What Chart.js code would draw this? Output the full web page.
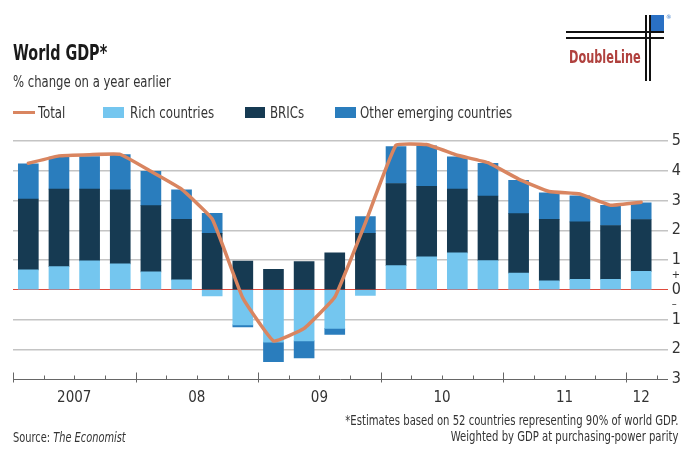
<!DOCTYPE html>
<html>
<head>
<meta charset="utf-8">
<script src="https://cdn.jsdelivr.net/npm/chart.js@4.4.0/dist/chart.umd.min.js"></script>
<style>
  body { margin: 0; background: #fff; }
  #wrap { position: relative; width: 692px; height: 466px; overflow: hidden;
          font-family: "Liberation Sans Narrow", "DejaVu Sans Condensed", Roboto, sans-serif; color: #222; }
  #chart { position: absolute; left: 0; top: 0; }
  .txt { position: absolute; white-space: nowrap; transform-origin: 0 50%; }
  #title { left: 13px; top: 41px; font-size: 21px; line-height: 24px; font-weight: bold; color: #1a1a1a; transform: scaleX(0.76); }
  #subtitle { left: 13px; top: 72px; font-size: 16px; line-height: 20px; color: #333; transform: scaleX(0.81); }
  .leg { top: 103px; font-size: 16px; line-height: 20px; color: #333; transform: scaleX(0.82); }
  .sw { position: absolute; }
  #source { left: 13px; top: 428px; font-size: 14px; line-height: 18px; color: #333; transform: scaleX(0.78); }
  #note { right: 14px; top: 413px; font-size: 14px; line-height: 15.6px; color: #333; text-align: right;
          transform-origin: 100% 50%; transform: scaleX(0.8); }
  .logo { position: absolute; background: #111; }
</style>
</head>
<body>
<div id="wrap">
  <canvas id="chart" width="692" height="466"></canvas>

  <div id="title" class="txt">World GDP*</div>
  <div id="subtitle" class="txt">% change on a year earlier</div>

  <div class="sw" style="left:13px;top:111px;width:22px;height:3px;background:#d98560"></div>
  <div class="txt leg" style="left:38px">Total</div>
  <div class="sw" style="left:103px;top:107px;width:21px;height:11px;background:#74c6ef"></div>
  <div class="txt leg" style="left:130px">Rich countries</div>
  <div class="sw" style="left:245px;top:107px;width:20px;height:11px;background:#163a52"></div>
  <div class="txt leg" style="left:270px">BRICs</div>
  <div class="sw" style="left:335px;top:107px;width:21px;height:11px;background:#2a7dbd"></div>
  <div class="txt leg" style="left:360px">Other emerging countries</div>

  <!-- DoubleLine logo -->
  <div class="logo" style="left:566px;top:31px;width:98px;height:2px"></div>
  <div class="logo" style="left:566px;top:37px;width:98px;height:2px"></div>
  <div class="logo" style="left:645px;top:15px;width:2px;height:66px"></div>
  <div class="logo" style="left:649px;top:15px;width:2px;height:66px"></div>
  <div class="sw" style="left:651px;top:15px;width:13px;height:16px;background:#2a70c4"></div>
  <div class="txt" style="left:666px;top:13px;font-size:6px;color:#2a70c4">®</div>
  <div class="txt" style="left:569px;top:47px;font-size:17px;line-height:20px;font-weight:bold;color:#b0413e;transform:scaleX(0.74)">DoubleLine</div>

  <div id="source" class="txt">Source: <i>The Economist</i></div>
  <div id="note" class="txt">*Estimates based on 52 countries representing 90% of world GDP.<br>Weighted by GDP at purchasing-power parity</div>
</div>

<script>
// quarterly, Q1 2007 - Q1 2012
const quarters = [
  "2007 Q1", "2007 Q2", "2007 Q3", "2007 Q4",
  "2008 Q1", "2008 Q2", "2008 Q3", "2008 Q4",
  "2009 Q1", "2009 Q2", "2009 Q3", "2009 Q4",
  "2010 Q1", "2010 Q2", "2010 Q3", "2010 Q4",
  "2011 Q1", "2011 Q2", "2011 Q3", "2011 Q4",
  "2012 Q1"
];
const yearLabels = ["2007", "08", "09", "10", "11", "12"];

// contributions, percentage points
const rich   = [0.67, 0.78, 0.97, 0.87, 0.60, 0.33, -0.21, -1.18, -1.76, -1.72, -1.30, -0.19, 0.81, 1.11, 1.24, 0.98, 0.56, 0.30, 0.35, 0.35, 0.62];
const brics  = [2.38, 2.60, 2.41, 2.49, 2.23, 2.04, 1.90, 0.96, 0.69, 0.95, 1.24, 1.90, 2.76, 2.37, 2.14, 2.17, 2.00, 2.07, 1.93, 1.81, 1.74];
const others = [1.18, 1.08, 1.10, 1.18, 1.15, 0.99, 0.67, -0.07, -0.66, -0.57, -0.20, 0.56, 1.24, 1.36, 1.09, 1.10, 1.12, 0.89, 0.88, 0.68, 0.56];
const total  = [4.25, 4.50, 4.54, 4.55, 3.98, 3.38, 2.38, -0.28, -1.72, -1.30, -0.25, 2.25, 4.86, 4.88, 4.52, 4.27, 3.72, 3.30, 3.22, 2.84, 2.94];

const yTickValues = [-3, -2, -1, -0.5, 0, 0.5, 1, 2, 3, 4, 5];

// year label goes in the middle of that year's quarters
const years = [...new Set(quarters.map(q => q.slice(0, 4)))];
const yearPos = years.map(y => {
  const idx = quarters.map((q, i) => q.startsWith(y) ? i : null).filter(i => i !== null);
  return idx.reduce((a, b) => a + b, 0) / idx.length;
});

const FONT = '"Liberation Sans Narrow", "DejaVu Sans Condensed", Roboto, sans-serif';
Chart.defaults.font.family = FONT;

const pts = arr => arr.map((v, i) => ({ x: i, y: v }));
const tickVal = c => (c && c.tick) ? c.tick.value : null;

// little upward tick marks on the bottom axis, longer at year starts
const axisTicks = {
  id: "axisTicks",
  afterDraw(chart) {
    const { ctx, scales: { x, y } } = chart;
    const yb = Math.round(y.getPixelForValue(-3)) + 0.5;
    ctx.save();
    ctx.strokeStyle = "#666";
    ctx.lineWidth = 1;
    for (let i = 0; i <= quarters.length; i++) {
      const px = Math.round(x.getPixelForValue(i - 0.5)) + 0.5;
      const major = i < quarters.length && quarters[i].endsWith("Q1");
      ctx.beginPath();
      ctx.moveTo(px, major ? yb + 3 : yb);
      ctx.lineTo(px, major ? yb - 7 : yb - 4);
      ctx.stroke();
    }
    ctx.restore();
  }
};

new Chart(document.getElementById("chart"), {
  type: "bar",
  data: {
    datasets: [
      { type: "line", label: "Total", data: pts(total), stack: "line", order: 0,
        borderColor: "#d98560", borderWidth: 3.5, pointRadius: 0, tension: 0.1,
        borderJoinStyle: "round", borderCapStyle: "round", fill: false },
      { label: "Rich countries", data: pts(rich), backgroundColor: "#74c6ef", order: 1 },
      { label: "BRICs", data: pts(brics), backgroundColor: "#163a52", order: 1 },
      { label: "Other emerging countries", data: pts(others), backgroundColor: "#2a7dbd", order: 1 }
    ]
  },
  options: {
    responsive: false,
    animation: false,
    layout: { padding: { left: 13, top: 141, right: 7, bottom: 49 } },
    datasets: { bar: { grouped: false, barThickness: 20, borderWidth: 0 } },
    plugins: { legend: { display: false }, tooltip: { enabled: false } },
    scales: {
      x: {
        type: "linear",
        offset: false,
        min: -0.5,
        max: 20.87,
        grid: { display: false, drawTicks: false, offset: false },
        border: { display: false },
        afterBuildTicks: s => { s.ticks = yearPos.map(v => ({ value: v })); },
        ticks: {
          autoSkip: false, maxRotation: 0, padding: 10, color: "#333",
          font: { size: 15 },
          callback: (v, i) => yearLabels[i]
        }
      },
      y: {
        position: "right",
        min: -3,
        max: 5,
        stacked: true,
        border: { display: false },
        afterBuildTicks: s => { s.ticks = yTickValues.map(v => ({ value: v })); },
        grid: {
          drawTicks: false,
          color: c => {
            const v = tickVal(c);
            if (v === 0) return "#e04a3c";
            if (v === 0.5 || v === -0.5) return "rgba(0,0,0,0)";
            if (v === -3) return "#666";
            return "#c4c4c4";
          },
          lineWidth: c => {
            const v = tickVal(c);
            return (v === 0 || v === -3) ? 1 : 1.4;
          }
        },
        ticks: {
          autoSkip: false,
          padding: 4,
          color: "#333",
          font: c => {
            const v = tickVal(c);
            return { size: (v === 0.5 || v === -0.5) ? 11 : 16 };
          },
          callback: v => v === 0.5 ? "+" : v === -0.5 ? "\u2013" : String(Math.abs(v))
        }
      }
    }
  },
  plugins: [axisTicks]
});
</script>
</body>
</html>
